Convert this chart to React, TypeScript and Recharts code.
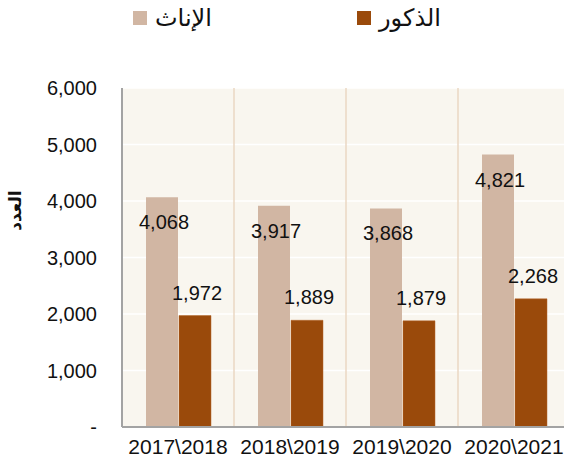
import React from 'react';
import { BarChart, Bar, XAxis, YAxis, CartesianGrid, ReferenceLine, LabelList } from 'recharts';

const years = ['2017\\2018', '2018\\2019', '2019\\2020', '2020\\2021'];
const females = [4068, 3917, 3868, 4821];
const males = [1972, 1889, 1879, 2268];
const yTicks = [0, 1000, 2000, 3000, 4000, 5000, 6000];
const femaleName = 'الإناث';
const maleName = 'الذكور';
const yTitle = 'العدد';

const data = years.map((y, i) => ({ year: y, female: females[i], male: males[i] }));

const FEMALE = '#d1b6a3';
const MALE = '#9a4a0b';
const FONT = '"Liberation Sans", Arial, "DejaVu Sans", sans-serif';

const fmt = (v: number) => (v === 0 ? '-' : v.toLocaleString('en-US'));

const makeLabel = (dy: number) => (props: any) => {
  const { x, y, width, value } = props;
  return (
    <text x={x + width / 2 + 2} y={y + dy} textAnchor="middle" dominantBaseline="central"
      fontSize={20} fontFamily={FONT} fill="#111">
      {fmt(value)}
    </text>
  );
};

const YTitle = (props: any) => {
  const { viewBox } = props;
  const cx = 15;
  const cy = viewBox.y + viewBox.height / 2 - 47;
  return (
    <text x={cx} y={cy} transform={`rotate(-90 ${cx} ${cy})`} textAnchor="middle" dominantBaseline="central"
      fontSize={17} fontWeight="bold" fontFamily={FONT} fill="#111">
      {yTitle}
    </text>
  );
};

const LegendItem = ({ left, color, text }: { left: number; color: string; text: string }) => (
  <div style={{ position: 'absolute', left, top: 4, display: 'flex', alignItems: 'center', direction: 'ltr' }}>
    <div style={{ width: 14, height: 14, background: color, marginRight: 8 }} />
    <span style={{ fontSize: 24, fontFamily: FONT, color: '#111', lineHeight: '28px' }}>{text}</span>
  </div>
);

export default function App() {
  return (
    <div style={{ position: 'absolute', left: 0, top: 0, width: 564, height: 462, overflow: 'hidden', background: '#fff' }}>
      <LegendItem left={133} color={FEMALE} text={femaleName} />
      <LegendItem left={357} color={MALE} text={maleName} />
      <BarChart width={570} height={462} data={data} margin={{ top: 88, right: 0, bottom: 0, left: 0 }}
        barCategoryGap={24} barGap={1}>
        <CartesianGrid fill="#f9f6ef" stroke="#ffffff" strokeWidth={1.5} vertical={false} />
        <XAxis xAxisId="cat" dataKey="year" height={35} tickSize={0} tickMargin={12}
          axisLine={{ stroke: '#a3a3a3', strokeWidth: 2 }}
          tick={{ fontSize: 21, fontFamily: FONT, fill: '#111' }} interval={0} />
        <YAxis width={122} domain={[0, 6000]} ticks={yTicks} tickFormatter={fmt} tickSize={0} tickMargin={25}
          axisLine={{ stroke: '#a3a3a3', strokeWidth: 2 }}
          tick={{ fontSize: 20, fontFamily: FONT, fill: '#111' }} label={<YTitle />} />
        {years.slice(1).map((y) => (
          <ReferenceLine key={y} xAxisId="cat" x={y} position="start" stroke="#ead7c3" strokeWidth={1.5} />
        ))}
        <Bar xAxisId="cat" dataKey="female" fill={FEMALE} isAnimationActive={false}>
          <LabelList dataKey="female" content={makeLabel(25)} />
        </Bar>
        <Bar xAxisId="cat" dataKey="male" fill={MALE} stroke="#b5662a" strokeWidth={0.5} isAnimationActive={false}>
          <LabelList dataKey="male" content={makeLabel(-23)} />
        </Bar>
      </BarChart>
    </div>
  );
}
